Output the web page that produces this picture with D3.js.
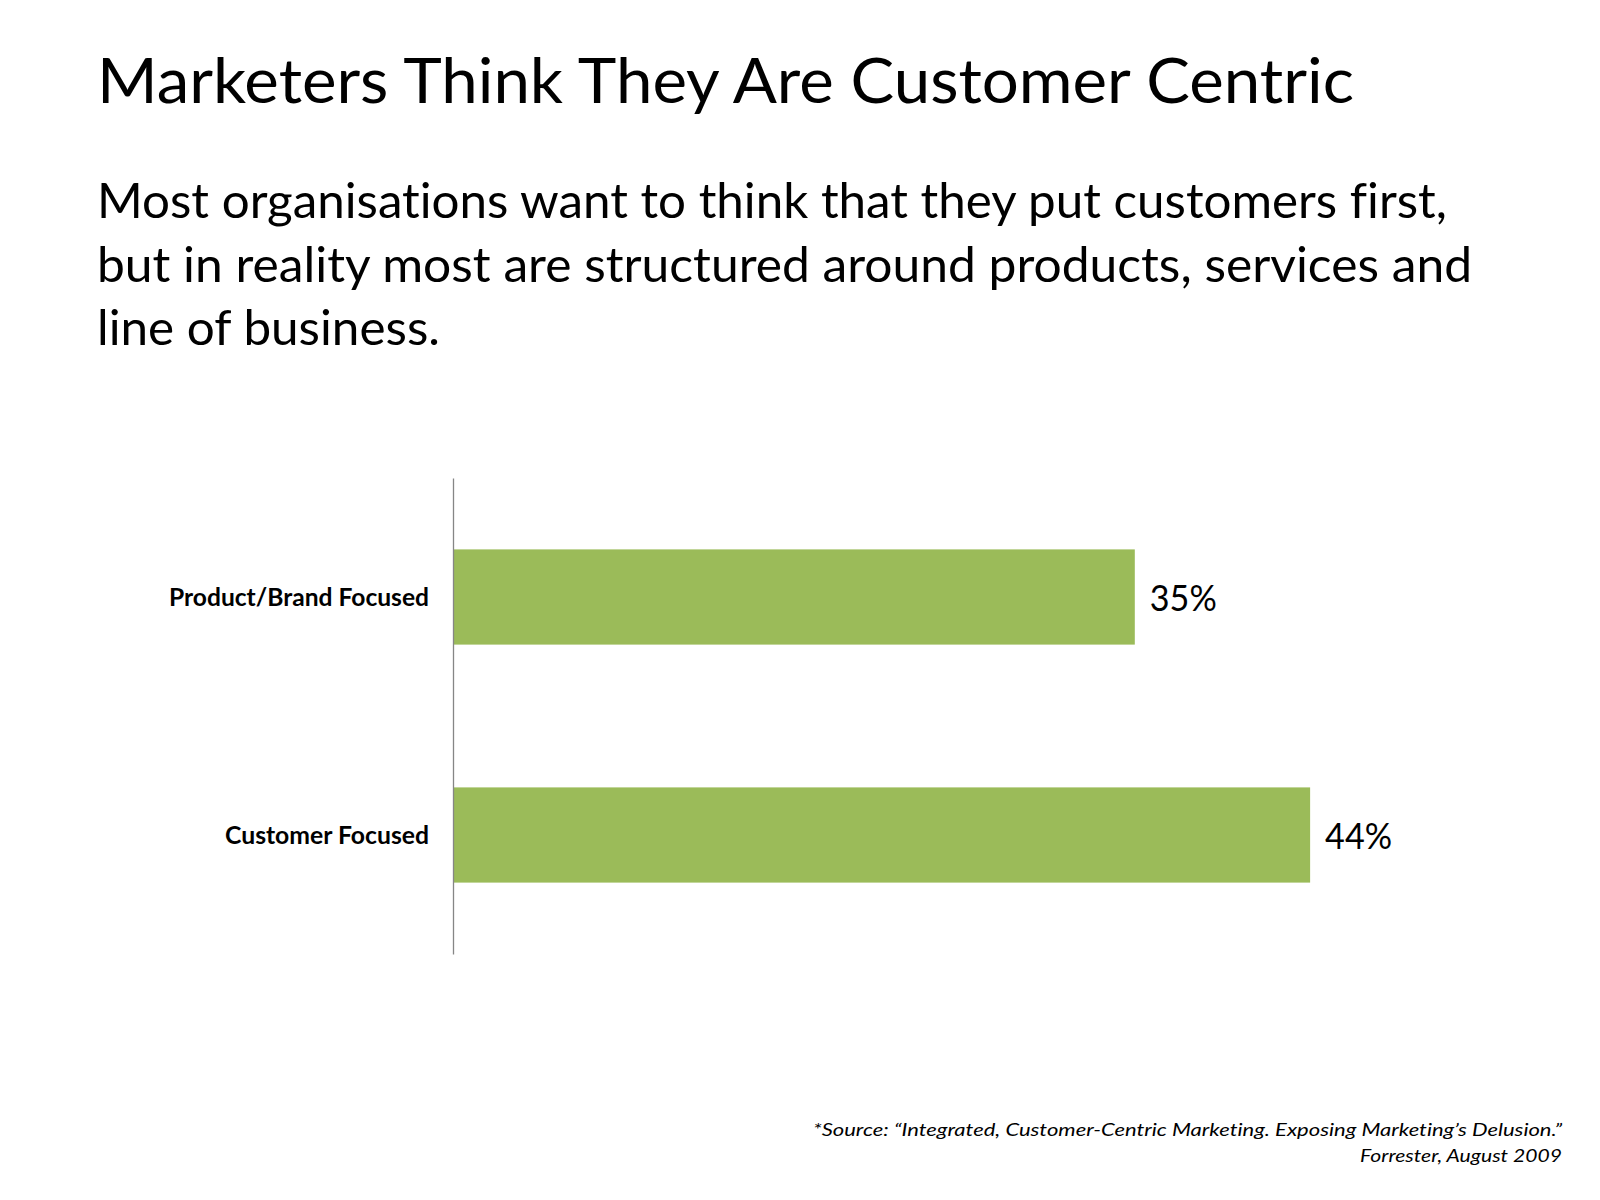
<!DOCTYPE html>
<html>
<head>
<meta charset="utf-8">
<script src="https://cdn.jsdelivr.net/npm/d3@7"></script>
<style>
  html, body { margin: 0; padding: 0; background: #ffffff; }
  svg { display: block; }
  svg text { font-variant-ligatures: none; font-feature-settings: "liga" 0, "clig" 0, "dlig" 0; }
</style>
</head>
<body>
<div id="chart"></div>
<script>
// ---- Data ----
const categories = ["Product/Brand Focused", "Customer Focused"];
const values = [35, 44];
const valueLabels = ["35%", "44%"];
const titleText = "Marketers Think They Are Customer Centric";
const subtitleLines = [
  "Most organisations want to think that they put customers first,",
  "but in reality most are structured around products, services and",
  "line of business."
];
const sourceLines = [
  "*Source: \u201CIntegrated, Customer-Centric Marketing. Exposing Marketing\u2019s Delusion.\u201D",
  "Forrester, August 2009"
];

// ---- Layout ----
const W = 1600, H = 1200;
const FONT = "Lato, 'Open Sans', 'Noto Sans', sans-serif";
const svg = d3.select("#chart").append("svg").attr("width", W).attr("height", H);
svg.append("rect").attr("width", W).attr("height", H).attr("fill", "#ffffff");

function fit(sel, width) {
  sel.attr("textLength", width).attr("lengthAdjust", "spacingAndGlyphs");
}

// Title
svg.append("text").attr("x", 97).attr("y", 103)
  .attr("font-family", FONT).attr("font-size", 62).attr("fill", "#000")
  .text(titleText).call(fit, 1257);

// Subtitle
const subWidths = [1350, 1375, 343];
const subBase = [218, 282, 345];
subtitleLines.forEach((t, i) => {
  svg.append("text").attr("x", 97).attr("y", subBase[i])
    .attr("font-family", FONT).attr("font-size", 48).attr("fill", "#000")
    .text(t).call(fit, subWidths[i]);
});

// Chart scales
const x = d3.scaleLinear().domain([0, 50]).range([453, 1427]);
const y = d3.scaleBand().domain(categories).range([478, 954])
  .paddingInner(0.6).paddingOuter(0.3);

// Bars
svg.append("g").selectAll("rect").data(categories).join("rect")
  .attr("x", x(0))
  .attr("y", d => y(d))
  .attr("width", (d, i) => x(values[i]) - x(0))
  .attr("height", y.bandwidth())
  .attr("fill", "#9BBB59");

// Axis (vertical line, no ticks)
const yAxis = d3.axisLeft(y).tickSize(0).tickPadding(24);
const gAxis = svg.append("g").attr("transform", `translate(${x(0)},0)`).call(yAxis);
gAxis.select(".domain").attr("stroke", "#868686").attr("stroke-width", 1.3);
gAxis.selectAll(".tick text")
  .attr("font-family", FONT).attr("font-size", 24).attr("font-weight", "bold")
  .attr("fill", "#000").attr("dy", "0.36em")
  .each(function(d, i) {
    const w = [260, 204][i];
    d3.select(this).call(fit, w);
  });

// Value labels
svg.append("g").selectAll("text").data(categories).join("text")
  .attr("x", (d, i) => x(values[i]) + 15)
  .attr("y", d => y(d) + y.bandwidth() / 2)
  .attr("dy", "0.4em")
  .attr("font-family", FONT).attr("font-size", 36).attr("fill", "#000")
  .text((d, i) => valueLabels[i])
  .each(function() { d3.select(this).call(fit, 67); });

// Source
const srcBase = [1136, 1162];
const srcWidths = [749, 202];
sourceLines.forEach((t, i) => {
  svg.append("text").attr("x", 1562).attr("y", srcBase[i])
    .attr("text-anchor", "end")
    .attr("font-family", FONT).attr("font-size", 18).attr("font-style", "italic")
    .attr("fill", "#000")
    .text(t).call(fit, srcWidths[i]);
});
</script>
</body>
</html>
